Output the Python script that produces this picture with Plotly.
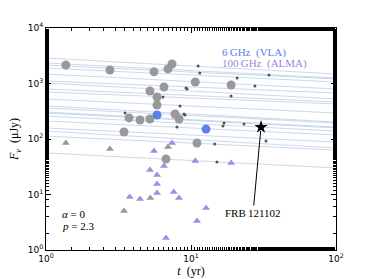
import plotly.graph_objects as go

# model tracks: flux at t=1 yr and t=100 yr (µJy)
line_F_start = [2880, 2340, 2150, 1900, 1480, 1110, 1020, 796, 703, 526,
                394, 362, 306, 294, 259, 211, 158, 139, 113, 56]
line_F_end = [1480, 1256, 1205, 1064, 796, 675, 526, 465, 428, 294,
              202, 194, 164, 158, 139, 118, 88, 69, 63, 30]
line_t = [1, 100]

gray_circ_t = [1.37, 2.76, 5.56, 6.94, 7.4, 5.21, 6.51, 5.83, 5.83, 3.74, 4.45,
               5.21, 3.45, 7.76, 8.27, 10.7, 18.9, 11.0, 6.72]
gray_circ_F = [2150, 1750, 1620, 1830, 2250, 733, 865, 571, 410, 240, 220,
               229, 134, 282, 229, 1064, 940, 84.7, 43.6]

blue_t = [5.83, 12.7]
blue_F = [271, 151]

dot_t = [3.51, 6.41, 8.4, 9.24, 8.0, 8.95, 11.2, 11.5, 9.39, 9.09, 20.8, 34.5,
         27.6, 18.9, 16.9, 16.6, 23.2, 14.6, 15.1, 32.9]
dot_F = [294, 571, 393, 830, 164, 282, 2070, 1550, 794, 271, 1259, 1423,
         902, 596, 194, 171, 186, 81, 38.5, 92]

gray_tri_t = [1.37, 2.76, 6.94, 5.24, 3.45]
gray_tri_F = [84.7, 66, 71.8, 8.65, 5.05]

purple_t = [7.4, 5.56, 6.51, 5.21, 5.83, 5.83, 5.83, 3.78, 4.45, 7.6, 8.27,
            6.72, 10.7, 18.9, 12.7, 11.0]
purple_F = [84.7, 60.8, 32.7, 27.6, 22.5, 15.5, 10.6, 9.02, 8.3, 11.1, 8.65,
            1.64, 40.2, 37, 5.7, 3.33]

frb_t = [30.4]
frb_F = [164]

x_ticks = [1, 10, 100]
x_labels = ["10<sup>0</sup>", "10<sup>1</sup>", "10<sup>2</sup>"]
y_ticks = [1, 10, 100, 1000, 10000]
y_labels = ["10<sup>0</sup>", "10<sup>1</sup>", "10<sup>2</sup>", "10<sup>3</sup>", "10<sup>4</sup>"]

fig = go.Figure()
for a, b in zip(line_F_start, line_F_end):
    fig.add_trace(go.Scatter(x=line_t, y=[a, b], mode="lines",
                             line=dict(color="rgba(160,185,220,0.55)", width=1),
                             hoverinfo="skip", showlegend=False))

fig.add_trace(go.Scatter(x=gray_circ_t, y=gray_circ_F, mode="markers",
                         marker=dict(color="#999999", size=9), showlegend=False))
fig.add_trace(go.Scatter(x=blue_t, y=blue_F, mode="markers",
                         marker=dict(color="#5b80ea", size=9), showlegend=False))
fig.add_trace(go.Scatter(x=dot_t, y=dot_F, mode="markers",
                         marker=dict(color="#555555", size=3), showlegend=False))
fig.add_trace(go.Scatter(x=gray_tri_t, y=gray_tri_F, mode="markers",
                         marker=dict(color="#999999", size=7, symbol="triangle-up"),
                         showlegend=False))
fig.add_trace(go.Scatter(x=purple_t, y=purple_F, mode="markers",
                         marker=dict(color="#a68be3", size=7, symbol="triangle-up"),
                         showlegend=False))
fig.add_trace(go.Scatter(x=frb_t, y=frb_F, mode="markers",
                         marker=dict(color="black", size=10, symbol="star"),
                         showlegend=False))

serif = "Liberation Serif"
fig.add_annotation(x=1.483, y=2.215, xref="x", yref="y", text="FRB\u2009121102",
                   showarrow=True, arrowhead=0, arrowwidth=1, arrowcolor="black",
                   ax=-8, ay=86, standoff=4,
                   font=dict(family=serif, size=11, color="black"))
fig.add_annotation(x=220, y=44, text="6\u2009GHz  (VLA)",
                   showarrow=False, xanchor="left", font=dict(family=serif, size=11, color="#5b80ea"))
fig.add_annotation(x=220, y=55, text="100\u2009GHz  (ALMA)", showarrow=False,
                   xanchor="left", font=dict(family=serif, size=11, color="#9f7fe0"))
fig.add_annotation(x=60, y=222, text="<i>α</i> = 0", showarrow=False, xanchor="left",
                   font=dict(family=serif, size=11, color="black"))
fig.add_annotation(x=60, y=234, text="<i>p</i> = 2.3", showarrow=False, xanchor="left",
                   font=dict(family=serif, size=11, color="black"))

# convert pixel-positioned annotations to paper coordinates
L, R, T, B = 46, 336, 28, 250
for ann in fig.layout.annotations[1:]:
    px, py = ann.x, ann.y
    ann.xref = "paper"
    ann.yref = "paper"
    ann.x = (px - L) / (R - L)
    ann.y = (B - py) / (B - T)

axis_common = dict(type="log", showline=True, linecolor="black", linewidth=1,
                   mirror="ticks", ticks="inside", ticklen=5, tickcolor="black",
                   showgrid=False, zeroline=False, automargin=False,
                   tickfont=dict(family="DejaVu Sans", size=9, color="black"),
                   minor=dict(ticks="inside", ticklen=3, tickcolor="black", showgrid=False))

fig.update_xaxes(range=[0, 2], tickvals=x_ticks, ticktext=x_labels,
                 title=dict(text="<i>t</i>  (yr)", font=dict(family=serif, size=12, color="black"), standoff=2),
                 **axis_common)
fig.update_yaxes(range=[0, 4], tickvals=y_ticks, ticktext=y_labels,
                 title=dict(text="<i>F<sub>ν</sub></i>  (μJy)", font=dict(family=serif, size=12, color="black"), standoff=6),
                 **axis_common)

fig.update_layout(width=374, height=279, margin=dict(l=46, r=38, t=28, b=29),
                  plot_bgcolor="white", paper_bgcolor="white")

fig.write_html("out.html", config={"displayModeBar": False},
               post_script="document.body.style.margin='0';document.body.style.padding='0';")
